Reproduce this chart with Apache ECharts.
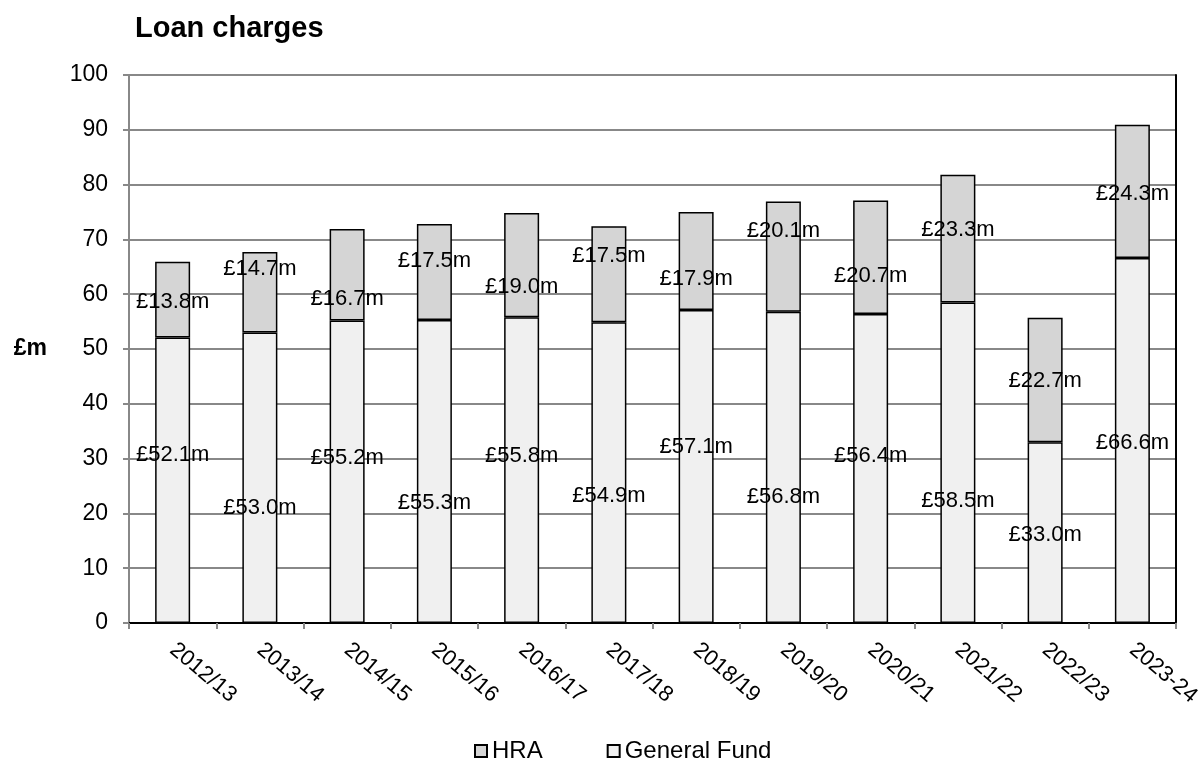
<!DOCTYPE html>
<html>
<head>
<meta charset="utf-8">
<title>Loan charges</title>
<script src="https://cdn.jsdelivr.net/npm/echarts@6/dist/echarts.min.js"></script>
<style>
  html, body { margin: 0; padding: 0; background: #fff; }
  #chart { width: 1202px; height: 763px; }
</style>
</head>
<body>
<div id="chart"></div>
<script>
// 年度
const years = ['2012/13', '2013/14', '2014/15', '2015/16', '2016/17', '2017/18',
  '2018/19', '2019/20', '2020/21', '2021/22', '2022/23', '2023-24'];
// General Fund (£m)
const generalFund = [52.1, 53.0, 55.2, 55.3, 55.8, 54.9, 57.1, 56.8, 56.4, 58.5, 33.0, 66.6];
// HRA (£m)
const hra = [13.8, 14.7, 16.7, 17.5, 19.0, 17.5, 17.9, 20.1, 20.7, 23.3, 22.7, 24.3];
const yTicks = [0, 10, 20, 30, 40, 50, 60, 70, 80, 90, 100];

// 标签手动偏移（原图中标签被拖动过）
const gfLabelShift = [-25, 30, -14, 31, -14, 23, -20, 30, -13, 38, 2, 2];
const hraLabelShift = [2, -23, 24, -11, 22, -18, 18, -26, 19, -9, 1, 2];

const FONT = 'Liberation Sans, Arial, sans-serif';

function money(v) {
  return '£' + v.toFixed(1) + 'm';
}

function withLabels(values, shifts) {
  return values.map((v, i) => ({
    value: v,
    label: { offset: [0, shifts[i]] },
  }));
}

const option = {
  animation: false,
  backgroundColor: '#fff',
  textStyle: { fontFamily: FONT },
  title: {
    text: 'Loan charges',
    left: 130,
    top: 9,
    textStyle: { fontFamily: FONT, fontSize: 29, fontWeight: 'bold', color: '#000' },
  },
  legend: {
    data: ['HRA', 'General Fund'],
    left: 469,
    top: 734,
    itemWidth: 12,
    itemHeight: 12,
    itemGap: 64,
    icon: 'rect',
    textStyle: { fontFamily: FONT, fontSize: 24, color: '#000', padding: [0, 0, 0, 0] },
  },
  grid: {
    left: 129,
    right: 26,
    top: 75,
    bottom: 140,
    outerBoundsMode: 'none',
  },
  xAxis: [{
    type: 'category',
    data: years,
    axisLine: { lineStyle: { color: '#888', width: 2 } },
    axisTick: { show: true, length: 6, lineStyle: { color: '#888', width: 2 } },
    axisLabel: {
      rotate: -40,
      margin: 24,
      interval: 0,
      fontFamily: FONT,
      fontSize: 22,
      color: '#000',
    },
  }, {
    // 顶部黑色边框
    type: 'category',
    position: 'top',
    data: years,
    axisLine: { lineStyle: { color: '#000', width: 2 } },
    axisTick: { show: false },
    axisLabel: { show: false },
  }],
  yAxis: [{
    type: 'value',
    min: yTicks[0],
    max: yTicks[yTicks.length - 1],
    interval: 10,
    name: '£m',
    nameLocation: 'middle',
    nameRotate: 0,
    nameGap: 82,
    nameTextStyle: { fontFamily: FONT, fontSize: 23, fontWeight: 'bold', color: '#000' },
    axisLine: { show: true, lineStyle: { color: '#888', width: 2 } },
    axisTick: { show: true, length: 6, lineStyle: { color: '#888', width: 2 } },
    axisLabel: { margin: 21, fontFamily: FONT, fontSize: 23, color: '#000' },
    splitLine: { show: true, lineStyle: { color: '#888', width: 2 } },
  }, {
    // 右侧黑色边框
    type: 'value',
    position: 'right',
    min: yTicks[0],
    max: yTicks[yTicks.length - 1],
    interval: 10,
    axisLine: { show: true, lineStyle: { color: '#000', width: 2 } },
    axisTick: { show: false },
    axisLabel: { show: false },
    splitLine: { show: false },
  }],
  series: [
    {
      name: 'General Fund',
      type: 'bar',
      stack: 'total',
      barWidth: 35,
      itemStyle: { color: '#f0f0f0', borderColor: '#000', borderWidth: 1.5 },
      label: {
        show: true,
        position: 'inside',
        fontFamily: FONT,
        fontSize: 22,
        color: '#000',
        formatter: (p) => money(p.value),
      },
      data: withLabels(generalFund, gfLabelShift),
    },
    {
      name: 'HRA',
      type: 'bar',
      stack: 'total',
      barWidth: 35,
      itemStyle: { color: '#d5d5d5', borderColor: '#000', borderWidth: 1.5 },
      label: {
        show: true,
        position: 'inside',
        fontFamily: FONT,
        fontSize: 22,
        color: '#000',
        formatter: (p) => money(p.value),
      },
      data: withLabels(hra, hraLabelShift),
    },
  ],
};

const myChart = echarts.init(document.getElementById('chart'));
myChart.setOption(option);
</script>
</body>
</html>
